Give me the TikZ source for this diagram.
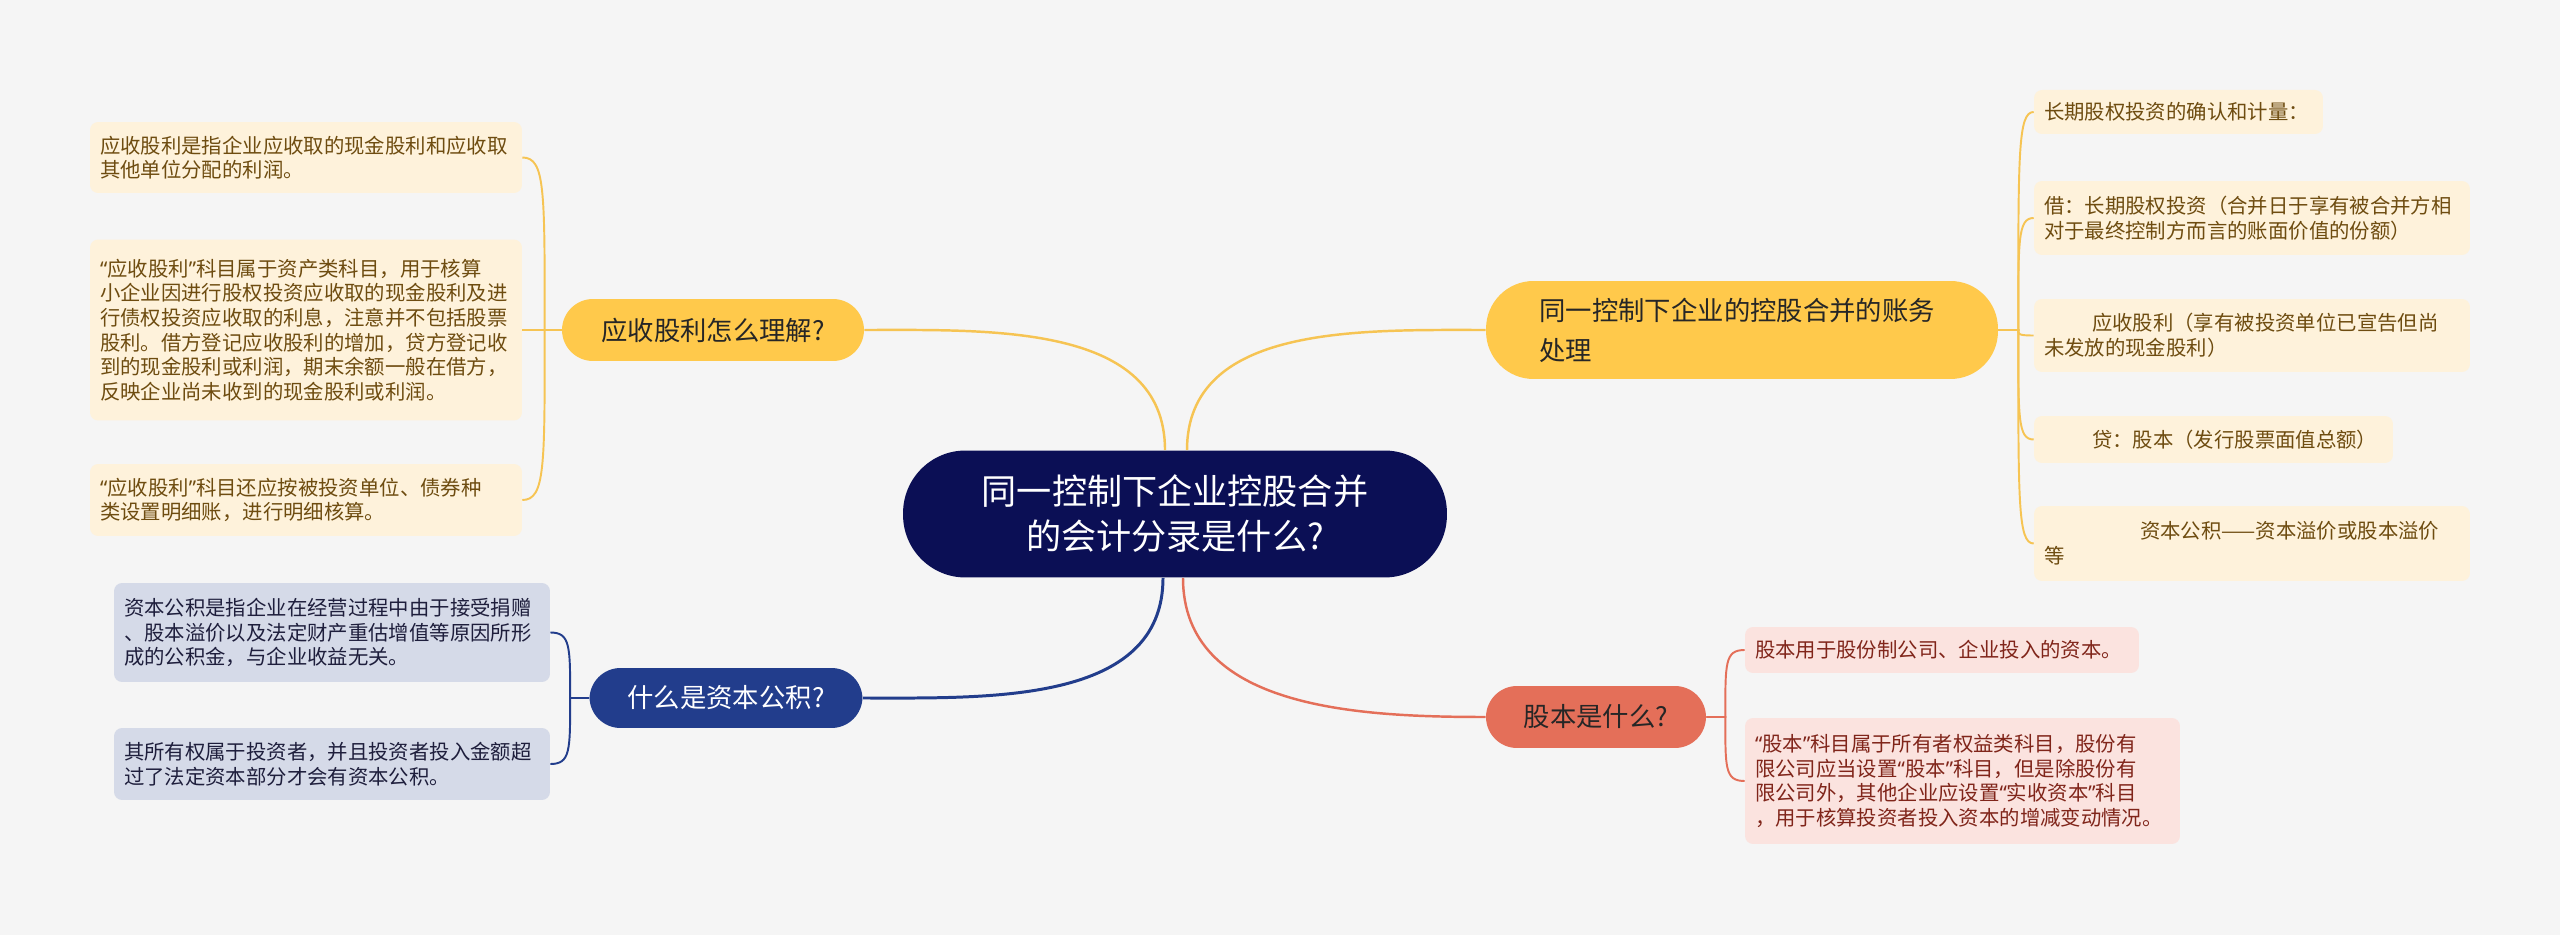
\documentclass[tikz,border=0pt]{standalone}
\usepackage{fontspec}
\setmainfont{Noto Sans CJK SC}
\newfontfamily\latinq{Noto Sans}
\newcommand{\kopen}{{\latinq “}}
\newcommand{\kclose}{{\latinq ”}}
\usepackage{xcolor}
\usepackage{tikz}
\definecolor{kbg}{HTML}{F5F5F5}
\definecolor{knavy}{HTML}{0B0F55}
\definecolor{kgold}{HTML}{FFC94B}
\definecolor{kgoldline}{HTML}{F6C453}
\definecolor{kcream}{HTML}{FEF2DB}
\definecolor{kbrown}{HTML}{6E4C10}
\definecolor{kblue}{HTML}{223D8C}
\definecolor{kmist}{HTML}{D5DAE8}
\definecolor{kink}{HTML}{1E1E3C}
\definecolor{kcoral}{HTML}{E46F59}
\definecolor{kpink}{HTML}{FBE3DF}
\definecolor{kred}{HTML}{80251A}
\tikzset{
  kroot/.style={fill=knavy, text=white, rounded corners=1.25cm, align=center,
                font=\fontsize{20}{25.6}\selectfont, minimum width=10.88cm, minimum height=2.54cm},
  ktopic/.style={rounded corners=0.62cm, align=center, minimum height=1.24cm,
                 font=\fontsize{15}{22.8}\selectfont},
  kleaf/.style={rounded corners=0.16cm, align=left, inner xsep=0.2cm, inner ysep=0pt,
                font=\fontsize{11.6}{14}\selectfont},
  kyleaf/.style={kleaf, fill=kcream, text=kbrown},
  kbleaf/.style={kleaf, fill=kmist, text=kink},
  kpleaf/.style={kleaf, fill=kpink, text=kred},
  kline/.style={line width=1.4pt},
  ksub/.style={line width=1.1pt},
}

\begin{document}
\begin{tikzpicture}[x=0.02cm,y=-0.02cm]

  \useasboundingbox (0,0) rectangle (2560,935);
  \fill[kbg] (0,0) rectangle (2560,935);

  % 中心
  \node[kroot] (root) at (1175,514) {同一控制下企业控股合并\\的会计分录是什么?};

  % 分支
  \node[ktopic, fill=kgold, text=black!85, minimum width=6.04cm] (recv) at (713,330) {应收股利怎么理解?};
  \node[ktopic, fill=kblue, text=white, minimum width=5.46cm, minimum height=1.2cm] (surplus) at (726,698) {什么是资本公积?};
  \node[ktopic, fill=kgold, text=black!85, minimum width=10.24cm, minimum height=1.96cm,
        rounded corners=0.95cm, text width=8.1cm, align=left] (merge) at (1742,330)
       {同一控制下企业的控股合并的账务\\处理};
  \node[ktopic, fill=kcoral, text=black!85, minimum width=4.4cm] (stock) at (1596,717) {股本是什么?};

  % 应收股利
  \node[kyleaf, text width=8.24cm, minimum height=1.42cm] (recvA) at (306,157.5)
       {应收股利是指企业应收取的现金股利和应收取\\其他单位分配的利润。};
  \node[kyleaf, text width=8.24cm, minimum height=3.62cm] (recvB) at (306,330)
       {\kopen 应收股利\kclose 科目属于资产类科目，用于核算\\小企业因进行股权投资应收取的现金股利及进\\行债权投资应收取的利息，注意并不包括股票\\股利。借方登记应收股利的增加，贷方登记收\\到的现金股利或利润，期末余额一般在借方，\\反映企业尚未收到的现金股利或利润。};
  \node[kyleaf, text width=8.24cm, minimum height=1.44cm] (recvC) at (306,500)
       {\kopen 应收股利\kclose 科目还应按被投资单位、债券种\\类设置明细账，进行明细核算。};

  % 资本公积
  \node[kbleaf, text width=8.32cm, minimum height=1.98cm] (surplusA) at (332,632.5)
       {资本公积是指企业在经营过程中由于接受捐赠\\、股本溢价以及法定财产重估增值等原因所形\\成的公积金，与企业收益无关。};
  \node[kbleaf, text width=8.32cm, minimum height=1.44cm] (surplusB) at (332,764)
       {其所有权属于投资者，并且投资者投入金额超\\过了法定资本部分才会有资本公积。};

  % 账务处理
  \node[kyleaf, text width=5.38cm, minimum height=0.88cm] (mergeA) at (2178.5,112)
       {长期股权投资的确认和计量：};
  \node[kyleaf, text width=8.32cm, minimum height=1.48cm] (mergeB) at (2252,218)
       {借：长期股权投资（合并日于享有被合并方相\\对于最终控制方而言的账面价值的份额）};
  \node[kyleaf, text width=8.32cm, minimum height=1.46cm] (mergeC) at (2252,335.5)
       {\hspace*{0.96cm}应收股利（享有被投资单位已宣告但尚\\未发放的现金股利）};
  \node[kyleaf, text width=6.78cm, minimum height=0.94cm] (mergeD) at (2213.5,439.5)
       {\hspace*{0.96cm}贷：股本（发行股票面值总额）};
  \node[kyleaf, text width=8.32cm, minimum height=1.5cm] (mergeE) at (2252,543.5)
       {\hspace*{1.92cm}资本公积——资本溢价或股本溢价\\等};

  % 股本
  \node[kpleaf, text width=7.48cm, minimum height=0.92cm] (stockA) at (1942,650)
       {股本用于股份制公司、企业投入的资本。};
  \node[kpleaf, text width=8.3cm, minimum height=2.52cm] (stockB) at (1962.5,781)
       {\kopen 股本\kclose 科目属于所有者权益类科目，股份有\\限公司应当设置\kopen 股本\kclose 科目，但是除股份有\\限公司外，其他企业应设置\kopen 实收资本\kclose 科目\\，用于核算投资者投入资本的增减变动情况。};

  % 主干连线
  \draw[kline, kgoldline] ([xshift=-0.2cm]root.north) to[out=90, in=0] (recv.east);
  \draw[kline, kgoldline] ([xshift=0.24cm]root.north) to[out=90, in=180] (merge.west);
  \draw[kline, kblue, line width=1.7pt] ([xshift=-0.24cm]root.south) to[out=-90, in=0] (surplus.east);
  \draw[kline, kcoral] ([xshift=0.16cm]root.south) to[out=-90, in=180] (stock.west);

  % 子节点连线
  \draw[ksub, kgoldline] (recv.west) -- ++(-17,0) .. controls +(0,-140) and +(23,0) .. (recvA.east);
  \draw[ksub, kgoldline] (recv.west) -- ++(-17,0) -- (recvB.east);
  \draw[ksub, kgoldline] (recv.west) -- ++(-17,0) .. controls +(0,136) and +(23,0) .. (recvC.east);

  \draw[ksub, kblue] (surplus.west) -- ++(-19,0) .. controls +(0,-52) and +(20,0) .. (surplusA.east);
  \draw[ksub, kblue] (surplus.west) -- ++(-19,0) .. controls +(0,53) and +(20,0) .. (surplusB.east);

  \draw[ksub, kgoldline] (merge.east) -- ++(20,0) .. controls +(0,-175) and +(-16,0) .. (mergeA.west);
  \draw[ksub, kgoldline] (merge.east) -- ++(20,0) .. controls +(0,-90) and +(-16,0) .. (mergeB.west);
  \draw[ksub, kgoldline] (merge.east) -- ++(20,0) .. controls +(0,4) and +(-16,0) .. (mergeC.west);
  \draw[ksub, kgoldline] (merge.east) -- ++(20,0) .. controls +(0,88) and +(-16,0) .. (mergeD.west);
  \draw[ksub, kgoldline] (merge.east) -- ++(20,0) .. controls +(0,171) and +(-16,0) .. (mergeE.west);

  \draw[ksub, kcoral] (stock.east) -- ++(19,0) .. controls +(0,-54) and +(-20,0) .. (stockA.west);
  \draw[ksub, kcoral] (stock.east) -- ++(19,0) .. controls +(0,51) and +(-20,0) .. (stockB.west);

\end{tikzpicture}
\end{document}
